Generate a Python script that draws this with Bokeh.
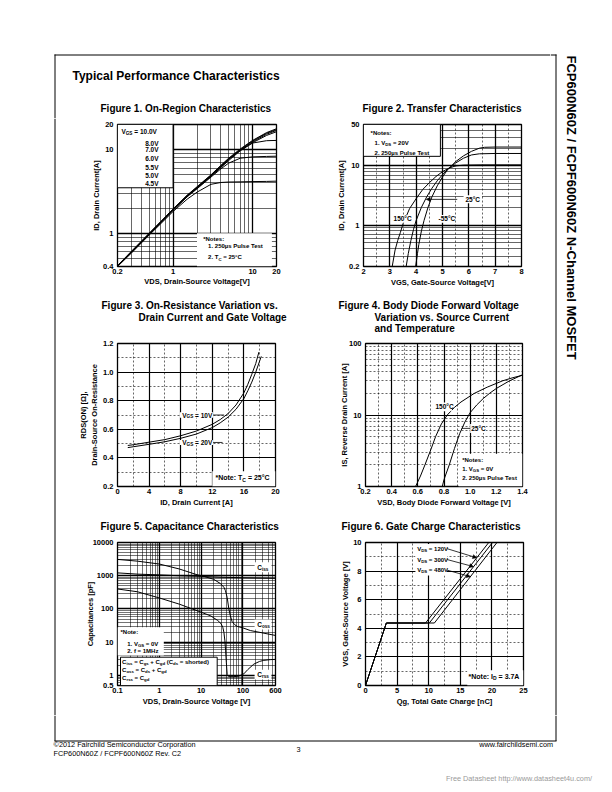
import re
from math import pi
from bokeh.plotting import figure
from bokeh.layouts import row, column
from bokeh.models import (Range1d, FixedTicker, CustomJSTickFormatter,
                          PrintfTickFormatter, Arrow, NormalHead)
from bokeh.core.properties import value
from bokeh.embed import file_html
from bokeh.resources import INLINE

FONT = "Liberation Sans"

# ---------------- data: Figure 1 ----------------
fig1_vgs_labels = ["10.0V", "8.0V", "7.0V", "6.0V", "5.5V", "5.0V", "4.5V"]
fig1_vds = [0.2, 0.3, 0.5, 0.7, 1, 1.5, 2, 3, 4, 5, 7, 10, 15, 20]
fig1_id_10v = [0.41, 0.61, 1.00, 1.38, 1.95, 2.85, 3.6, 5.0, 6.5, 7.9, 10.2, 12.9, 16.0, 17.8]
fig1_id_8v = [0.405, 0.60, 0.99, 1.37, 1.93, 2.82, 3.55, 4.95, 6.4, 7.8, 10.0, 12.7, 15.7, 17.4]
fig1_id_7v = [0.40, 0.60, 0.98, 1.36, 1.92, 2.80, 3.5, 4.9, 6.3, 7.7, 9.9, 12.4, 15.3, 17.0]
fig1_id_6v = [0.40, 0.59, 0.97, 1.35, 1.90, 2.77, 3.47, 4.85, 6.2, 7.6, 9.8, 12.1, 14.8, 16.4]
fig1_id_5v5 = [0.40, 0.59, 0.97, 1.34, 1.89, 2.75, 3.45, 4.8, 6.1, 7.4, 9.7, 12.0, 12.8, 12.9]
fig1_id_5v = [0.40, 0.59, 0.96, 1.33, 1.88, 2.72, 3.4, 4.7, 5.9, 6.9, 7.9, 8.2, 8.3, 8.35]
fig1_id_4v5 = [0.40, 0.58, 0.95, 1.30, 1.82, 2.55, 3.1, 3.85, 4.05, 4.1, 4.12, 4.15, 4.17, 4.2]
fig1_x_ticks = [0.2, 1, 10, 20]
fig1_x_minor = [0.3, 0.4, 0.5, 0.6, 0.7, 0.8, 0.9, 2, 3, 4, 5, 6, 7, 8, 9]
fig1_y_ticks = [0.4, 1, 10, 20]
fig1_y_minor = [0.5, 0.6, 0.7, 0.8, 0.9, 2, 3, 4, 5, 6, 7, 8, 9]

# ---------------- data: Figure 2 ----------------
fig2_vgs_150c = [3.09, 3.2, 3.3, 3.4, 3.5, 3.75, 4.0, 4.25, 4.5, 4.75, 5.0, 5.25, 5.5, 5.8, 6.5, 8.0]
fig2_id_150c = [0.2, 0.38, 0.55, 0.75, 1.05, 1.9, 2.8, 4.0, 5.2, 6.6, 8.0, 9.2, 10.0, 10.3, 10.4, 10.4]
fig2_vgs_25c = [3.62, 3.7, 3.8, 3.9, 4.0, 4.2, 4.4, 4.6, 4.8, 5.0, 5.2, 5.5, 5.8, 6.1, 6.4, 7.0, 8.0]
fig2_id_25c = [0.2, 0.33, 0.55, 0.85, 1.2, 2.0, 3.0, 4.2, 5.6, 7.1, 8.8, 11.2, 13.5, 15.3, 16.0, 16.2, 16.2]
fig2_vgs_m55c = [3.98, 4.05, 4.1, 4.2, 4.3, 4.45, 4.6, 4.8, 5.0, 5.2, 5.5, 5.8, 6.1, 6.4, 6.6, 7.0, 8.0]
fig2_id_m55c = [0.2, 0.33, 0.47, 0.8, 1.2, 2.0, 3.0, 4.6, 6.5, 8.7, 11.8, 14.8, 17.6, 19.9, 20.6, 20.8, 20.8]
fig2_x_ticks = [2, 3, 4, 5, 6, 7, 8]
fig2_x_minor = [2.5, 3.5, 4.5, 5.5, 6.5, 7.5]
fig2_y_ticks = [0.2, 1, 10, 50]
fig2_y_minor = [0.3, 0.4, 0.5, 0.6, 0.7, 0.8, 0.9, 2, 3, 4, 5, 6, 7, 8, 9, 20, 30, 40]

# ---------------- data: Figure 3 ----------------
fig3_id_10v = [1.3, 2, 4, 6, 8, 10, 12, 13, 14, 15, 16, 16.5, 17, 17.5, 17.9]
fig3_r_10v = [0.487, 0.492, 0.51, 0.528, 0.555, 0.588, 0.635, 0.668, 0.71, 0.77, 0.855, 0.915, 0.985, 1.06, 1.14]
fig3_id_20v = [1.3, 2, 4, 6, 8, 10, 12, 13, 14, 15, 16, 16.5, 17, 17.5, 18.2]
fig3_r_20v = [0.472, 0.478, 0.495, 0.513, 0.537, 0.567, 0.612, 0.645, 0.685, 0.74, 0.815, 0.87, 0.93, 1.0, 1.11]
fig3_x_ticks = [0, 4, 8, 12, 16, 20]
fig3_x_minor = [2, 6, 10, 14, 18]
fig3_y_ticks = [0.2, 0.4, 0.6, 0.8, 1.0, 1.2]
fig3_y_minor = [0.3, 0.5, 0.7, 0.9, 1.1]

# ---------------- data: Figure 4 ----------------
fig4_vsd_150c = [0.583, 0.62, 0.654, 0.70, 0.736, 0.78, 0.825, 0.88, 0.93, 1.03, 1.13, 1.247, 1.32, 1.4]
fig4_is_150c = [1, 1.4, 2.0, 3.3, 5.0, 7.5, 10.0, 12.8, 15.2, 20.0, 24.5, 30.0, 33.0, 36.0]
fig4_vsd_25c = [0.787, 0.80, 0.84, 0.88, 0.92, 0.96, 1.0, 1.05, 1.1, 1.15, 1.2, 1.3, 1.4]
fig4_is_25c = [1, 1.25, 2.0, 3.4, 5.5, 8.0, 10.8, 13.8, 17.0, 20.2, 23.5, 30.0, 36.5]
fig4_x_ticks = [0.2, 0.4, 0.6, 0.8, 1.0, 1.2, 1.4]
fig4_x_minor = [0.3, 0.5, 0.7, 0.9, 1.1, 1.3]
fig4_y_ticks = [1, 10, 100]
fig4_y_minor = [2, 3, 4, 5, 6, 7, 8, 9, 20, 30, 40, 50, 60, 70, 80, 90]

# ---------------- data: Figure 5 ----------------
fig5_vds_ciss = [0.1, 0.3, 1, 3, 10, 30, 100, 300, 600]
fig5_ciss = [1220, 1120, 1060, 1000, 955, 905, 870, 850, 840]
fig5_vds_coss = [0.1, 0.3, 1, 3, 8, 12, 20, 29, 35, 38, 42, 46, 50, 55, 63, 73, 100, 150, 300, 600]
fig5_coss = [3100, 2750, 2250, 1600, 1070, 950, 780, 580, 450, 360, 220, 100, 62, 42, 34, 30, 27, 22.5, 19, 16]
fig5_vds_crss = [0.1, 0.3, 1, 3, 10, 17, 25, 30, 33, 35, 37, 38.5, 40, 42, 46, 60, 80, 105, 130, 182, 250, 315, 450, 600]
fig5_crss = [400, 330, 215, 140, 80, 62, 45, 36, 28, 20, 11, 5.5, 2.5, 1.05, 0.92, 0.92, 0.96, 1.12, 1.5, 2.2, 2.65, 2.85, 3.0, 3.05]
fig5_x_ticks = [0.1, 1, 10, 100, 600]
fig5_x_minor = [0.2, 0.3, 0.4, 0.5, 0.6, 0.7, 0.8, 0.9, 2, 3, 4, 5, 6, 7, 8, 9,
                20, 30, 40, 50, 60, 70, 80, 90, 200, 300, 400, 500]
fig5_y_ticks = [0.5, 1, 10, 100, 1000, 10000]
fig5_y_minor = [0.6, 0.7, 0.8, 0.9, 2, 3, 4, 5, 6, 7, 8, 9, 20, 30, 40, 50, 60, 70, 80, 90,
                200, 300, 400, 500, 600, 700, 800, 900, 2000, 3000, 4000, 5000, 6000, 7000, 8000, 9000]

# ---------------- data: Figure 6 ----------------
fig6_vgs = [0, 4.37, 4.37, 10.0]
fig6_qg_120v = [0, 3.3, 9.5, 19.5]
fig6_qg_300v = [0, 3.3, 10.1, 20.1]
fig6_qg_480v = [0, 3.3, 10.9, 20.8]
fig6_x_ticks = [0, 5, 10, 15, 20, 25]
fig6_x_minor = [2.5, 7.5, 12.5, 17.5, 22.5]
fig6_y_ticks = [0, 2, 4, 6, 8, 10]
fig6_y_minor = [1, 3, 5, 7, 9]

# ---------------- helpers ----------------
CW = {' ': .278, '.': .278, ',': .278, ':': .333, '-': .333, '=': .584, '*': .389, '(': .333,
      ')': .333, '[': .333, ']': .333, '/': .278, '°': .4, 'µ': .611, '+': .584,
      'A': .722, 'B': .722, 'C': .722, 'D': .722, 'E': .667, 'F': .611, 'G': .778, 'H': .722,
      'I': .278, 'M': .833, 'N': .722, 'O': .778, 'P': .667, 'R': .722, 'S': .667, 'T': .611,
      'V': .667, 'Z': .611, 'a': .556, 'b': .611, 'c': .556, 'd': .611, 'e': .556, 'f': .333,
      'g': .611, 'h': .611, 'i': .278, 'l': .278, 'm': .889, 'n': .611, 'o': .611, 'p': .611,
      'r': .389, 's': .556, 't': .333, 'u': .611, 'v': .556, 'y': .556, 'z': .5}


def tw(s, size):
    return sum(CW.get(c, 0.556) for c in s) * size


def parse(s):
    parts, i = [], 0
    for m in re.finditer(r'([_^])\{([^}]*)\}', s):
        if m.start() > i:
            parts.append((s[i:m.start()], 'n'))
        parts.append((m.group(2), 's' if m.group(1) == '_' else 'u'))
        i = m.end()
    if i < len(s):
        parts.append((s[i:], 'n'))
    return parts


def rich(p, x, y, s, size=6.5, align="left", style="bold", color="black"):
    parts = parse(s)
    sizes = [size * 0.72 if k != 'n' else size for _, k in parts]
    widths = [tw(t, fs) for (t, _), fs in zip(parts, sizes)]
    total = sum(widths)
    off = {'left': 0, 'center': -total / 2, 'right': -total}[align]
    for (t, k), fs, w in zip(parts, sizes, widths):
        lead = len(t) - len(t.lstrip(' '))
        t2 = t.lstrip(' ')
        dy = size * 0.28 if k == 's' else (-size * 0.35 if k == 'u' else 0)
        if t2:
            p.text(x=[x], y=[y], text=[t2], x_offset=off + lead * CW[' '] * fs, y_offset=dy,
                   text_font=value(FONT), text_font_size=f"{fs:.2f}px", text_font_style=style,
                   text_color=color, text_align="left", text_baseline="middle")
        off += w


def strip(x0, x1, y0, y1):
    p = figure(width=x1 - x0, height=y1 - y0, x_range=Range1d(x0, x1), y_range=Range1d(y1, y0),
               toolbar_location=None, output_backend="svg", min_border=0, title=None,
               x_axis_location=None, y_axis_location=None)
    p.outline_line_color = None
    for g in p.grid:
        g.visible = False
    return p


def chart(w, h, bl, br, bt, bb, xr, yr, xt="linear", yt="linear"):
    p = figure(width=w, height=h, x_range=Range1d(*xr), y_range=Range1d(*yr), title=None,
               x_axis_type=xt, y_axis_type=yt, toolbar_location=None, output_backend="svg",
               min_border_left=bl, min_border_right=br, min_border_top=bt, min_border_bottom=bb)
    p.outline_line_color = "black"
    p.outline_line_width = 1.3
    return p


def style(p, xlabel, ylabel, xt, xm, yt, ym, xls=1, yls=1, major_w=1.2, minor_w=0.6,
          xdash=None, ydash=None):
    p.xaxis.ticker = FixedTicker(ticks=xt, minor_ticks=xm)
    p.yaxis.ticker = FixedTicker(ticks=yt, minor_ticks=ym)
    for ax in list(p.xaxis) + list(p.yaxis):
        ax.axis_line_color = None
        ax.major_tick_line_color = None
        ax.minor_tick_line_color = None
        ax.major_tick_in = 0
        ax.major_tick_out = 0
        ax.minor_tick_in = 0
        ax.minor_tick_out = 0
        ax.major_label_text_font = FONT
        ax.major_label_text_font_size = "7.5px"
        ax.major_label_text_font_style = "bold"
        ax.major_label_text_color = "black"
        ax.axis_label_text_font = FONT
        ax.axis_label_text_font_size = "7.5px"
        ax.axis_label_text_font_style = "bold"
        ax.axis_label_text_color = "black"
    p.xaxis.major_label_standoff = 2
    p.yaxis.major_label_standoff = 4
    p.xaxis.axis_label = xlabel
    p.yaxis.axis_label = ylabel
    p.xaxis.axis_label_standoff = xls
    p.yaxis.axis_label_standoff = yls
    for g, d in ((p.xgrid, xdash), (p.ygrid, ydash)):
        g.grid_line_color = "black"
        g.grid_line_width = major_w
        g.grid_line_alpha = 1
        g.minor_grid_line_color = "black"
        g.minor_grid_line_width = minor_w
        g.minor_grid_line_alpha = 1
        if d:
            g.minor_grid_line_dash = d


def whitebox(p, l, r, b, t, border=None):
    p.quad(left=[l], right=[r], bottom=[b], top=[t], fill_color="white",
           line_color=border if border else None, line_width=1)


def plain_fmt():
    return CustomJSTickFormatter(code="return String(tick)")


# ---------------- Figure 1 ----------------
c1 = chart(242, 178, 59, 24, 4, 30, (0.2, 20), (0.4, 20), "log", "log")
style(c1, "VDS, Drain-Source Voltage[V]", "ID, Drain Current[A]",
      fig1_x_ticks, fig1_x_minor, fig1_y_ticks, fig1_y_minor, xls=0, yls=-1, major_w=1.3)
c1.xaxis.formatter = plain_fmt()
c1.yaxis.formatter = plain_fmt()
whitebox(c1, 2, 17.5, 0.4, 1.0)
for ids in (fig1_id_10v, fig1_id_8v, fig1_id_7v, fig1_id_6v, fig1_id_5v5, fig1_id_5v, fig1_id_4v5):
    c1.line(fig1_vds, ids, line_color="black", line_width=1)
whitebox(c1, 0.2, 1.0, 3.5, 20, border="black")
rich(c1, 0.224, 16.4, "V_{GS} = " + fig1_vgs_labels[0])
for lab, yy in zip(fig1_vgs_labels[1:], [11.7, 9.93, 7.93, 6.2, 4.86, 3.95]):
    rich(c1, 0.656, yy, lab, align="right")
rich(c1, 2.39, 0.863, "*Notes:", size=6)
rich(c1, 2.76, 0.694, "1. 250µs Pulse Test", size=6)
rich(c1, 2.76, 0.515, "2. T_{C} = 25°C", size=6)

# ---------------- Figure 2 ----------------
c2 = chart(250, 178, 63, 29, 6, 26, (2, 8), (0.2, 50), "linear", "log")
style(c2, "VGS, Gate-Source Voltage[V]", "ID, Drain Current[A]",
      fig2_x_ticks, fig2_x_minor, fig2_y_ticks, fig2_y_minor, xls=1, yls=0, major_w=1.3,
      xdash="2 2")
c2.yaxis.formatter = plain_fmt()
for xs, ys in ((fig2_vgs_150c, fig2_id_150c), (fig2_vgs_25c, fig2_id_25c), (fig2_vgs_m55c, fig2_id_m55c)):
    c2.line(xs, ys, line_color="black", line_width=1)
whitebox(c2, 2, 4.92, 14.5, 50, border="black")
whitebox(c2, 5.8, 6.5, 2.35, 3.2)
whitebox(c2, 3.1, 3.68, 1.1, 1.48)
whitebox(c2, 4.8, 5.45, 1.1, 1.48)
c2.add_layout(Arrow(end=NormalHead(size=4, fill_color="black", line_color="black", line_width=0.5),
                    x_start=5.56, y_start=2.72, x_end=4.38, y_end=2.72,
                    line_color="black", line_width=0.8))
rich(c2, 2.27, 35.6, "*Notes:", size=6)
rich(c2, 2.42, 24.2, "1. V_{DS} = 20V", size=6)
rich(c2, 2.42, 16.7, "2. 250µs Pulse Test", size=6)
rich(c2, 5.87, 2.72, "25°C")
rich(c2, 3.14, 1.28, "150°C")
rich(c2, 4.85, 1.28, "-55°C")

# ---------------- Figure 3 ----------------
c3 = chart(242, 174, 59, 25, 7, 23, (0, 20), (0.2, 1.2))
style(c3, "ID, Drain Current [A]", "RDS(ON) [Ω],\nDrain-Source On-Resistance",
      fig3_x_ticks, fig3_x_minor, fig3_y_ticks, fig3_y_minor, xls=1, yls=1, xdash="2 2", ydash="2 2")
c3.yaxis.formatter = PrintfTickFormatter(format="%.1f")
c3.line(fig3_id_10v, fig3_r_10v, line_color="black", line_width=1)
c3.line(fig3_id_20v, fig3_r_20v, line_color="black", line_width=1)
whitebox(c3, 7.9, 12.1, 0.68, 0.72)
whitebox(c3, 7.9, 12.1, 0.49, 0.525)
whitebox(c3, 12.0, 20, 0.2, 0.306)
c3.segment(x0=[12.1, 12.1], y0=[0.70, 0.508], x1=[13.5, 13.3], y1=[0.70, 0.508],
           line_color="black", line_width=0.8)
rich(c3, 8.19, 0.70, "V_{GS} = 10V")
rich(c3, 8.19, 0.508, "V_{GS} = 20V")
rich(c3, 12.4, 0.26, "*Note: T_{C} = 25°C", size=7)

# ---------------- Figure 4 ----------------
c4 = chart(250, 174, 65, 28, 6, 24, (0.2, 1.4), (1, 100), "linear", "log")
style(c4, "VSD, Body Diode Forward Voltage [V]", "IS, Reverse Drain Current [A]",
      fig4_x_ticks, fig4_x_minor, fig4_y_ticks, fig4_y_minor, xls=1, yls=-3, xdash="2 2", ydash="2 2")
c4.xaxis.formatter = PrintfTickFormatter(format="%.1f")
c4.yaxis.formatter = plain_fmt()
c4.line(fig4_vsd_150c, fig4_is_150c, line_color="black", line_width=1)
c4.line(fig4_vsd_25c, fig4_is_25c, line_color="black", line_width=1)
whitebox(c4, 0.72, 0.86, 11.3, 15.0)
whitebox(c4, 1.0, 1.12, 5.6, 7.5)
whitebox(c4, 0.911, 1.4, 1, 2.87)
c4.segment(x0=[0.935], y0=[6.5], x1=[1.0], y1=[6.5], line_color="black", line_width=0.8)
rich(c4, 0.735, 13.0, "150°C")
rich(c4, 1.008, 6.5, "25°C")
rich(c4, 0.939, 2.37, "*Notes:", size=6)
rich(c4, 0.939, 1.76, "1. V_{GS} = 0V", size=6)
rich(c4, 0.939, 1.30, "2. 250µs Pulse Test", size=6)

# ---------------- Figure 5 ----------------
c5 = chart(242, 181, 59, 25, 8, 30, (0.1, 600), (0.5, 10000), "log", "log")
style(c5, "VDS, Drain-Source Voltage [V]", "Capacitances [pF]",
      fig5_x_ticks, fig5_x_minor, fig5_y_ticks, fig5_y_minor, xls=1, yls=-5, major_w=1.3, minor_w=0.55)
c5.xaxis.formatter = plain_fmt()
c5.yaxis.formatter = plain_fmt()
for xs, ys in ((fig5_vds_ciss, fig5_ciss), (fig5_vds_coss, fig5_coss), (fig5_vds_crss, fig5_crss)):
    c5.line(xs, ys, line_color="black", line_width=1)
whitebox(c5, 190, 480, 1280, 2550)
whitebox(c5, 190, 480, 24, 48)
whitebox(c5, 190, 480, 0.76, 1.5)
whitebox(c5, 0.1, 1.28, 3.99, 28.3)
whitebox(c5, 0.118, 24.2, 0.5, 3.55, border="black")
rich(c5, 219, 1807, "C_{iss}")
rich(c5, 219, 34.2, "C_{oss}")
rich(c5, 219, 1.07, "C_{rss}")
rich(c5, 0.118, 21, "*Note:", size=6)
rich(c5, 0.171, 8.97, "1. V_{GS} = 0V", size=6)
rich(c5, 0.171, 5.27, "2. f = 1MHz", size=6)
rich(c5, 0.129, 2.63, "C_{iss} = C_{gs} + C_{gd} (C_{ds} = shorted)", size=6)
rich(c5, 0.129, 1.44, "C_{oss} = C_{ds} + C_{gd}", size=6)
rich(c5, 0.129, 0.83, "C_{rss} = C_{gd}", size=6)

# ---------------- Figure 6 ----------------
c6 = chart(250, 181, 65, 27, 8, 28, (0, 25), (0, 10))
style(c6, "Qg, Total Gate Charge [nC]", "VGS, Gate-Source Voltage [V]",
      fig6_x_ticks, fig6_x_minor, fig6_y_ticks, fig6_y_minor, xls=1, yls=0, xdash="2 2", ydash="2 2")
for qs in (fig6_qg_120v, fig6_qg_300v, fig6_qg_480v):
    c6.line(qs, fig6_vgs, line_color="black", line_width=1)
whitebox(c6, 7.9, 12.9, 7.7, 9.9)
whitebox(c6, 16.1, 25, 0, 1.06)
for (xs, ys, xe, ye) in ((12.9, 9.57, 17.6, 8.93), (12.9, 8.81, 17.1, 8.31), (12.9, 8.07, 16.6, 7.61)):
    c6.add_layout(Arrow(end=NormalHead(size=4, fill_color="black", line_color="black", line_width=0.5),
                        x_start=xs, y_start=ys, x_end=xe, y_end=ye,
                        line_color="black", line_width=0.8))
rich(c6, 8.18, 9.57, "V_{DS} = 120V", size=6)
rich(c6, 8.18, 8.81, "V_{DS} = 300V", size=6)
rich(c6, 8.18, 8.07, "V_{DS} = 480V", size=6)
rich(c6, 16.3, 0.64, "*Note: I_{D} = 3.7A", size=7)

# ---------------- page strips (page pixel coordinates) ----------------
S0 = strip(0, 550, 0, 118)
S0.segment(x0=[54, 54.5], y0=[54.5, 54], x1=[550, 54.5], y1=[54.5, 118], line_color="black", line_width=1)
rich(S0, 72, 75, "Typical Performance Characteristics", size=12)
rich(S0, 100, 108.3, "Figure 1. On-Region Characteristics", size=10)
rich(S0, 362, 108.3, "Figure 2. Transfer Characteristics", size=10)

L = strip(0, 58, 118, 715)
L.segment(x0=[54.5], y0=[118], x1=[54.5], y1=[715], line_color="black", line_width=1)

S1 = strip(58, 550, 296, 336)
rich(S1, 101, 305, "Figure 3. On-Resistance Variation vs.", size=10)
rich(S1, 138, 317, "Drain Current and Gate Voltage", size=10)
rich(S1, 338, 305, "Figure 4. Body Diode Forward Voltage", size=10)
rich(S1, 374, 316.7, "Variation vs. Source Current", size=10)
rich(S1, 374, 327.7, "and Temperature", size=10)

S2 = strip(58, 550, 510, 534)
rich(S2, 100, 526, "Figure 5. Capacitance Characteristics", size=10)
rich(S2, 341, 526, "Figure 6. Gate Charge Characteristics", size=10)

R = strip(550, 612, 0, 715)
R.segment(x0=[550, 555.5], y0=[54.5, 54], x1=[556, 555.5], y1=[54.5, 715], line_color="black", line_width=1)
R.text(x=[571], y=[55], text=["FCP600N60Z / FCPF600N60Z N-Channel MOSFET"], angle=-pi / 2,
       text_font=value(FONT), text_font_size="13px", text_font_style="bold", text_color="black",
       text_align="left", text_baseline="middle")

B = strip(0, 612, 715, 792)
B.segment(x0=[54.5, 555.5, 54], y0=[715, 715, 740.5], x1=[54.5, 555.5, 556], y1=[740.5, 740.5, 740.5],
          line_color="black", line_width=1)
rich(B, 53, 744, "©2012 Fairchild Semiconductor Corporation", size=7.3, style="normal")
rich(B, 53, 753, "FCP600N60Z / FCPF600N60Z Rev. C2", size=7.3, style="normal")
rich(B, 298, 749, "3", size=7.3, style="normal", align="center")
rich(B, 555, 744, "www.fairchildsemi.com", size=7.3, style="normal", align="right")
rich(B, 596, 778, "Free Datasheet http://www.datasheet4u.com/", size=7.3, style="normal",
     align="right", color="#9a9a9a")

charts = column(row(c1, c2), S1, row(c3, c4), S2, row(c5, c6))
left_block = column(S0, row(L, charts))
page = column(row(left_block, R), B)

open("out.html", "w").write(file_html(page, INLINE))
